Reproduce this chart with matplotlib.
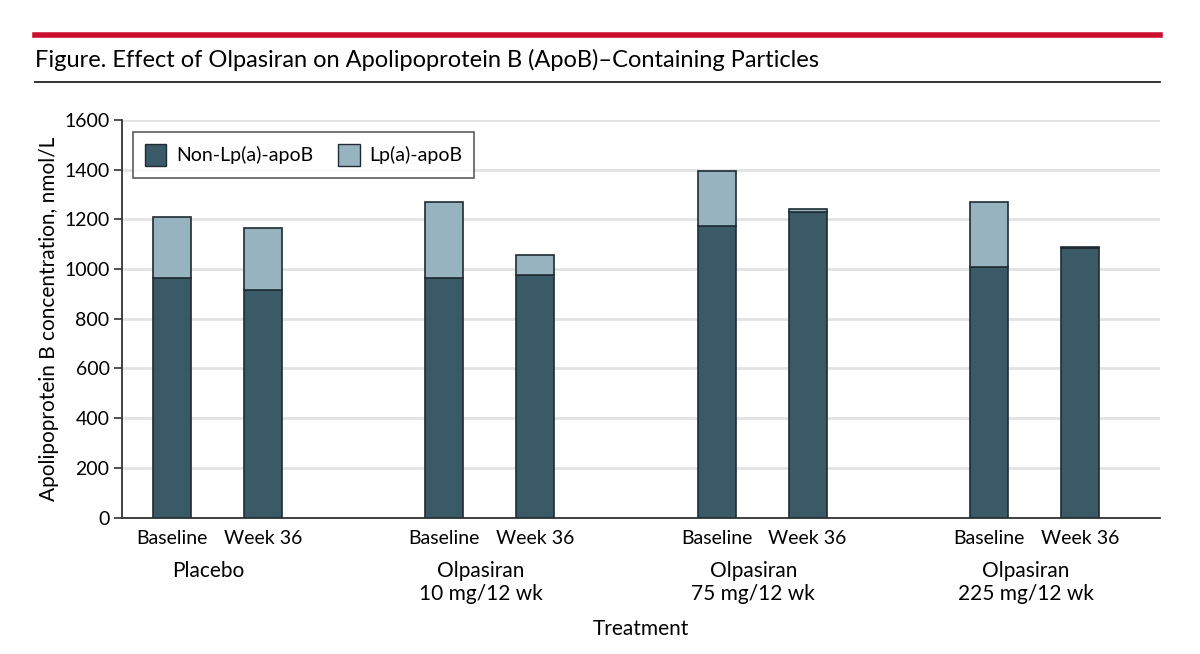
import numpy as np
import matplotlib
matplotlib.use("Agg")
import matplotlib.pyplot as plt
from matplotlib.patches import Patch

plt.rcParams['font.family'] = ['Lato', 'DejaVu Sans']

# data (nmol/L)
groups = ["Placebo", "Olpasiran\n10 mg/12 wk", "Olpasiran\n75 mg/12 wk", "Olpasiran\n225 mg/12 wk"]
timepoints = ["Baseline", "Week 36"]
non_lpa_apob = [965, 915, 965, 977, 1172, 1230, 1009, 1083]
total_apob = [1208, 1164, 1269, 1058, 1393, 1242, 1269, 1090]
lpa_apob = list(np.array(total_apob) - np.array(non_lpa_apob))

dark = "#3b5a68"
light = "#97b3bf"
edge = "#1f2c33"

fig = plt.figure(figsize=(12, 6.54), dpi=100)
ax = fig.add_axes([0.1017, 0.2087, 0.865, 0.6078])

# bar positions: two per group, groups 3 units apart
x = []
for g in range(len(groups)):
    x += [3 * g, 3 * g + 1]
x = np.array(x)

ax.bar(x, non_lpa_apob, width=0.42, color=dark, edgecolor=edge, linewidth=1.2, zorder=3)
ax.bar(x, lpa_apob, width=0.42, bottom=non_lpa_apob, color=light, edgecolor=edge, linewidth=1.2, zorder=3)

ax.set_ylim(0, 1600)
ax.set_xlim(-0.55, 10.88)
ax.set_yticks(range(0, 1601, 200))
ax.yaxis.grid(True, color="#e2e2e2", linewidth=2, zorder=0)
ax.set_axisbelow(True)
ax.tick_params(axis="y", labelsize=14, length=6, width=1.2, color="#333333", pad=3)
ax.set_xticks(x)
ax.set_xticklabels(timepoints * len(groups), fontsize=14)
ax.tick_params(axis="x", length=0, pad=9)
for s in ["top", "right"]:
    ax.spines[s].set_visible(False)
for s in ["left", "bottom"]:
    ax.spines[s].set_color("#333333")
    ax.spines[s].set_linewidth(1.3)

# group labels under the tick labels
for g, name in enumerate(groups):
    ax.text(3 * g + 0.4, -0.11, name, transform=ax.get_xaxis_transform(),
            ha="center", va="top", fontsize=15, linespacing=1.15)

ax.set_xlabel("Treatment", fontsize=15, labelpad=52)
ax.set_ylabel("Apolipoprotein B concentration, nmol/L", fontsize=15, labelpad=4)

handles = [Patch(facecolor=dark, edgecolor=edge, label="Non-Lp(a)-apoB"),
           Patch(facecolor=light, edgecolor=edge, label="Lp(a)-apoB")]
leg = ax.legend(handles=handles, loc="upper left", ncol=2, fontsize=14,
                bbox_to_anchor=(0.0106, 0.97), borderaxespad=0, frameon=True, fancybox=False,
                handlelength=1.1, handleheight=1.4, columnspacing=1.3,
                borderpad=0.6, handletextpad=0.5)
leg.get_frame().set_edgecolor("#333333")
leg.get_frame().set_linewidth(1.2)

# header rules and title
fig.add_artist(plt.Line2D([0.029, 0.967], [0.946, 0.946], color="#c8102e", linewidth=4))
fig.add_artist(plt.Line2D([0.029, 0.967], [0.874, 0.874], color="#222222", linewidth=1.3))
fig.text(0.029, 0.908, "Figure. Effect of Olpasiran on Apolipoprotein B (ApoB)–Containing Particles",
         fontsize=17, ha="left", va="center")

plt.savefig("out.png", dpi=100)
